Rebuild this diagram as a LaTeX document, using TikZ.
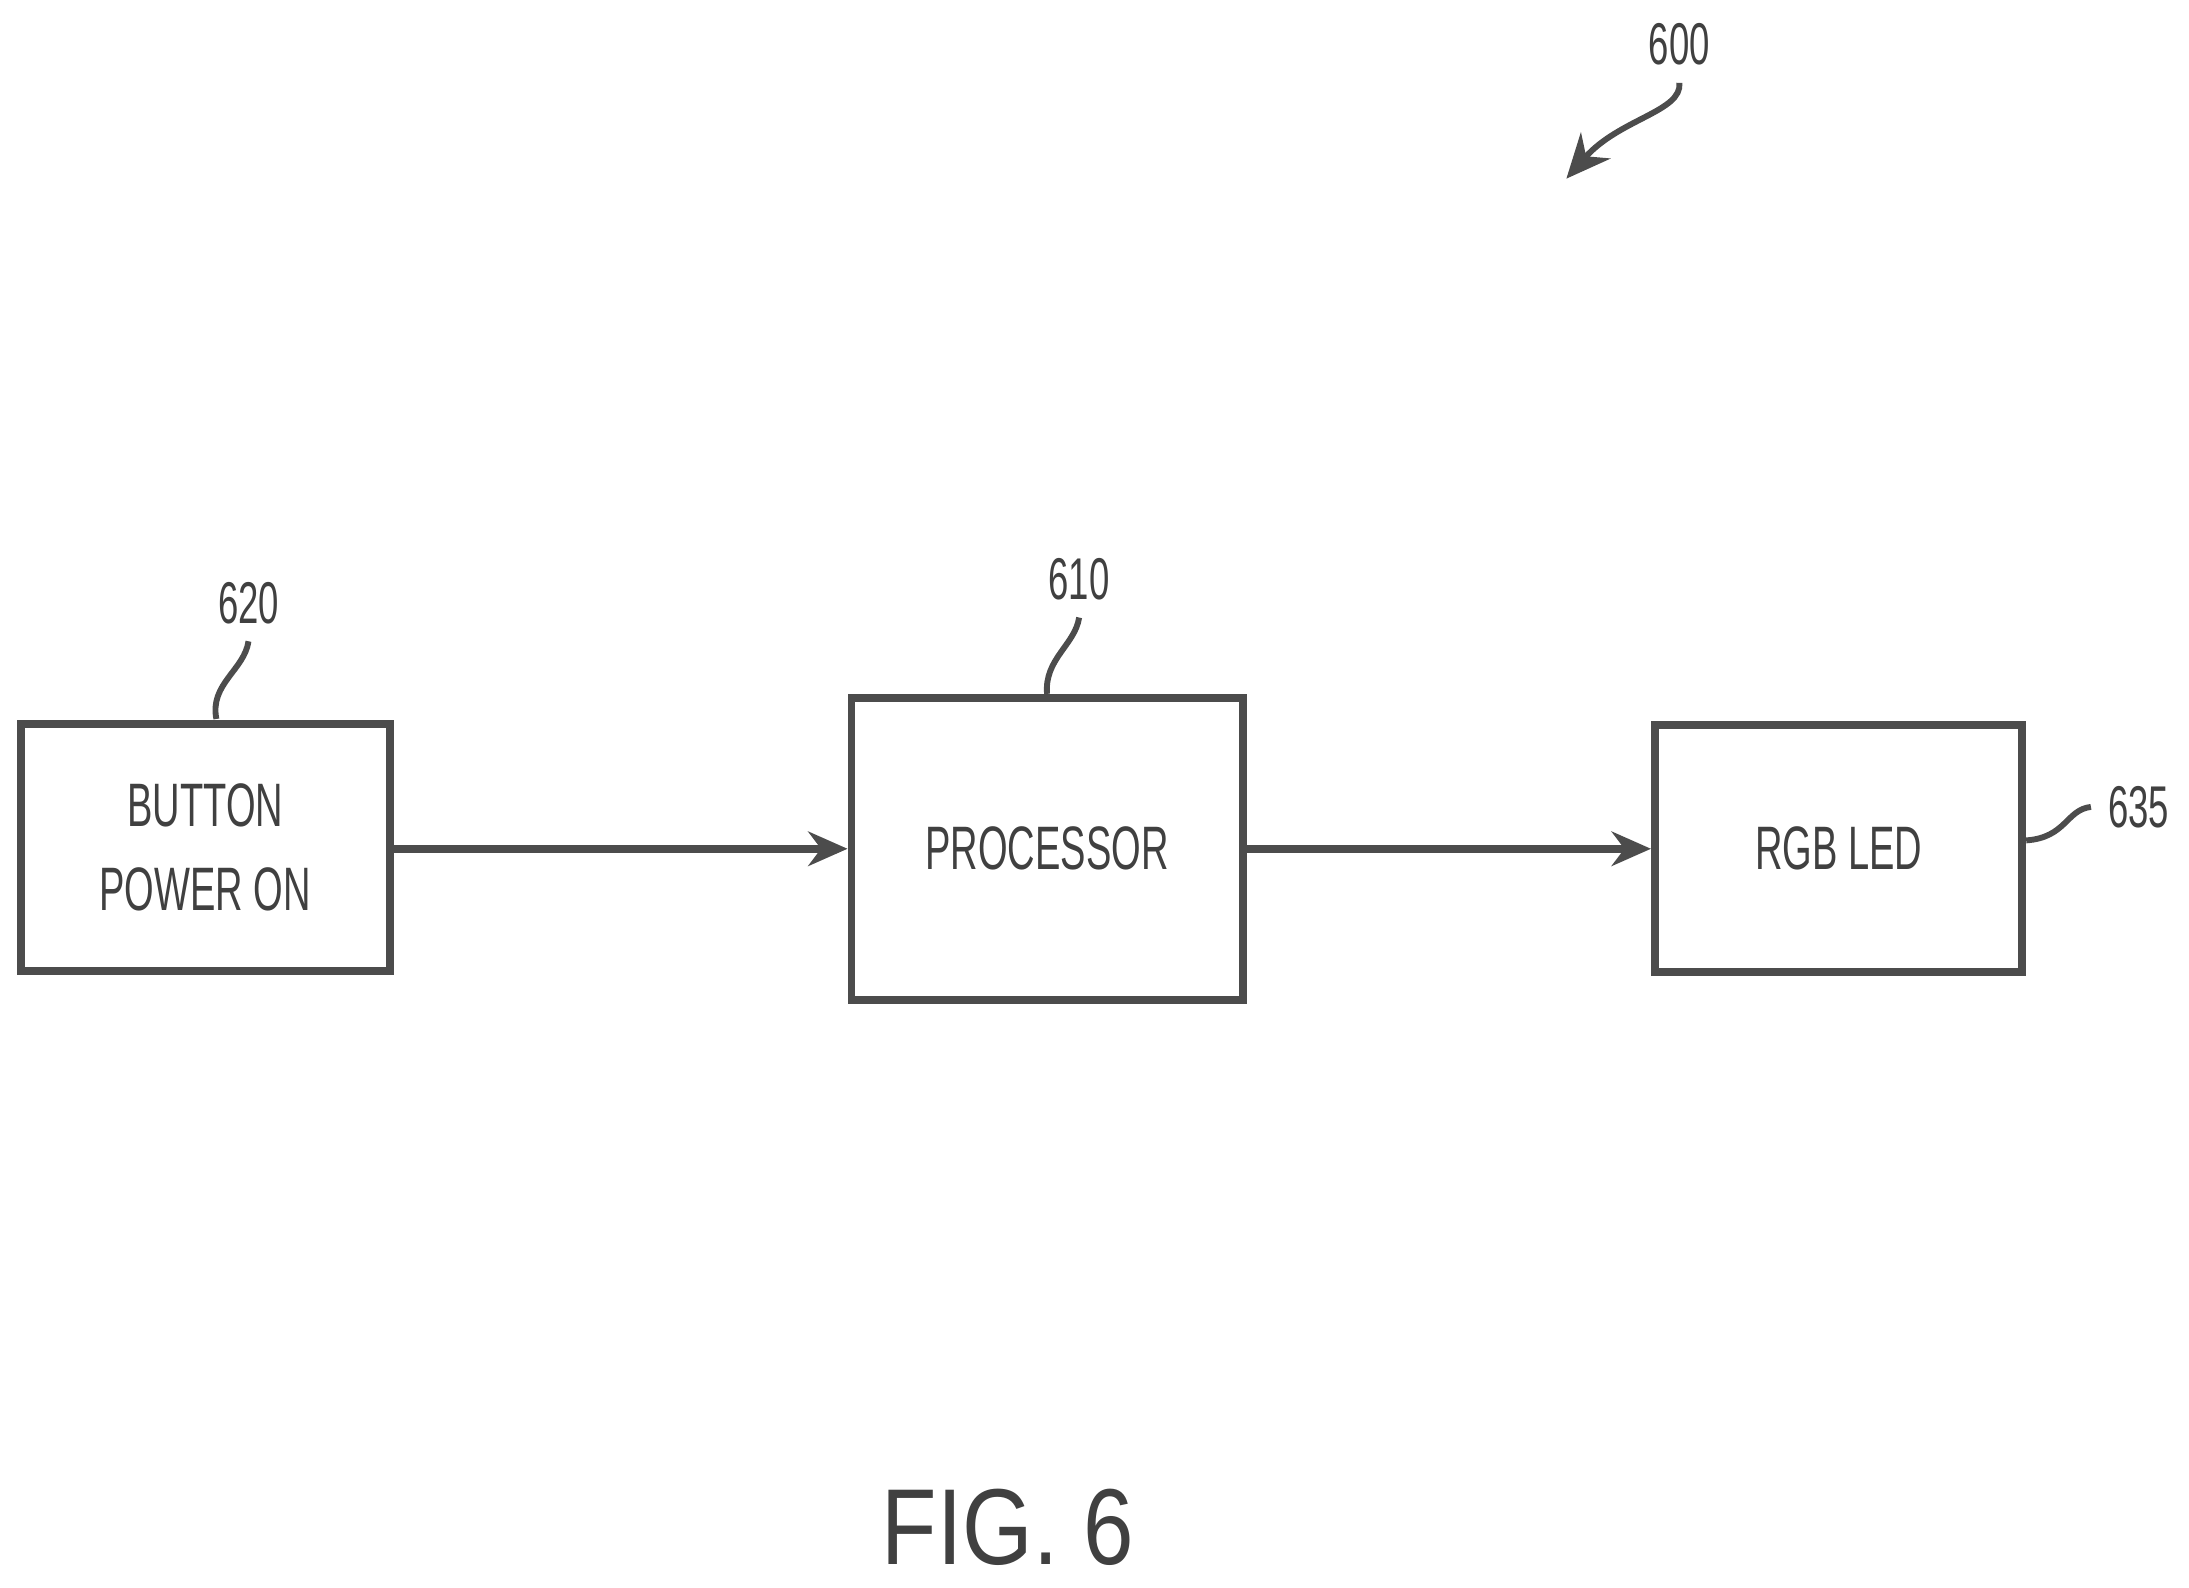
\documentclass[tikz,border=0pt]{standalone}
\usepackage{fontspec}
\setmainfont{Liberation Sans}
\newfontfamily\narrowsf[FakeStretch=0.62]{Liberation Sans}
\newfontfamily\figsf[FakeStretch=0.84]{Liberation Sans}
\usetikzlibrary{arrows.meta,positioning}
\tikzset{
  blk/.style={draw=black!70,line width=1.6pt,inner sep=0pt,font=\narrowsf\fontsize{12.5}{16}\selectfont,align=center,text=black!75},
  lbl/.style={font=\narrowsf\fontsize{12}{14}\selectfont,text=black!75},
  lead/.style={draw=black!70,line width=1.2pt},
  flow/.style={draw=black!70,line width=1.6pt,-{Stealth[length=8pt,width=7pt]}}
}
\begin{document}
\begin{tikzpicture}[x=0.01cm,y=-0.01cm]
\useasboundingbox (0,0) rectangle (1568,1137);
\node[blk,minimum width=2.64cm,minimum height=1.77cm] (btn) at (147,607) {BUTTON\\[1pt]POWER ON};
\node[blk,minimum width=2.80cm,minimum height=2.16cm] (proc) at (750,608) {PROCESSOR};
\node[blk,minimum width=2.63cm,minimum height=1.77cm] (led) at (1317,608) {RGB LED};
\path[flow] (btn.east |- 0,608) -- (proc.west |- 0,608);
\path[flow] (proc.east |- 0,608) -- (led.west |- 0,608);
% reference numerals
\node[lbl] (n620) at (178,432) {620};
\node[lbl] (n610) at (773,415) {610};
\node[lbl] (n635) at (1532,578) {635};
\node[lbl] (n600) at (1203,32) {600};
\draw[lead] (155,515) .. controls (150,490) and (175,480) .. (n620.south);
\draw[lead] (750,497) .. controls (748,472) and (770,462) .. (n610.south);
\draw[lead] (led.east |- 0,602) .. controls (1480,600) and (1480,580) .. (n635.west);
\draw[lead,-{Stealth[length=9pt,width=8pt]}] (n600.south) .. controls (1205,80) and (1160,85) .. (1122,128);
\node[font=\figsf\fontsize{22}{26}\selectfont,text=black!75] (fig) at (722,1094) {FIG. 6};
\end{tikzpicture}
\end{document}
